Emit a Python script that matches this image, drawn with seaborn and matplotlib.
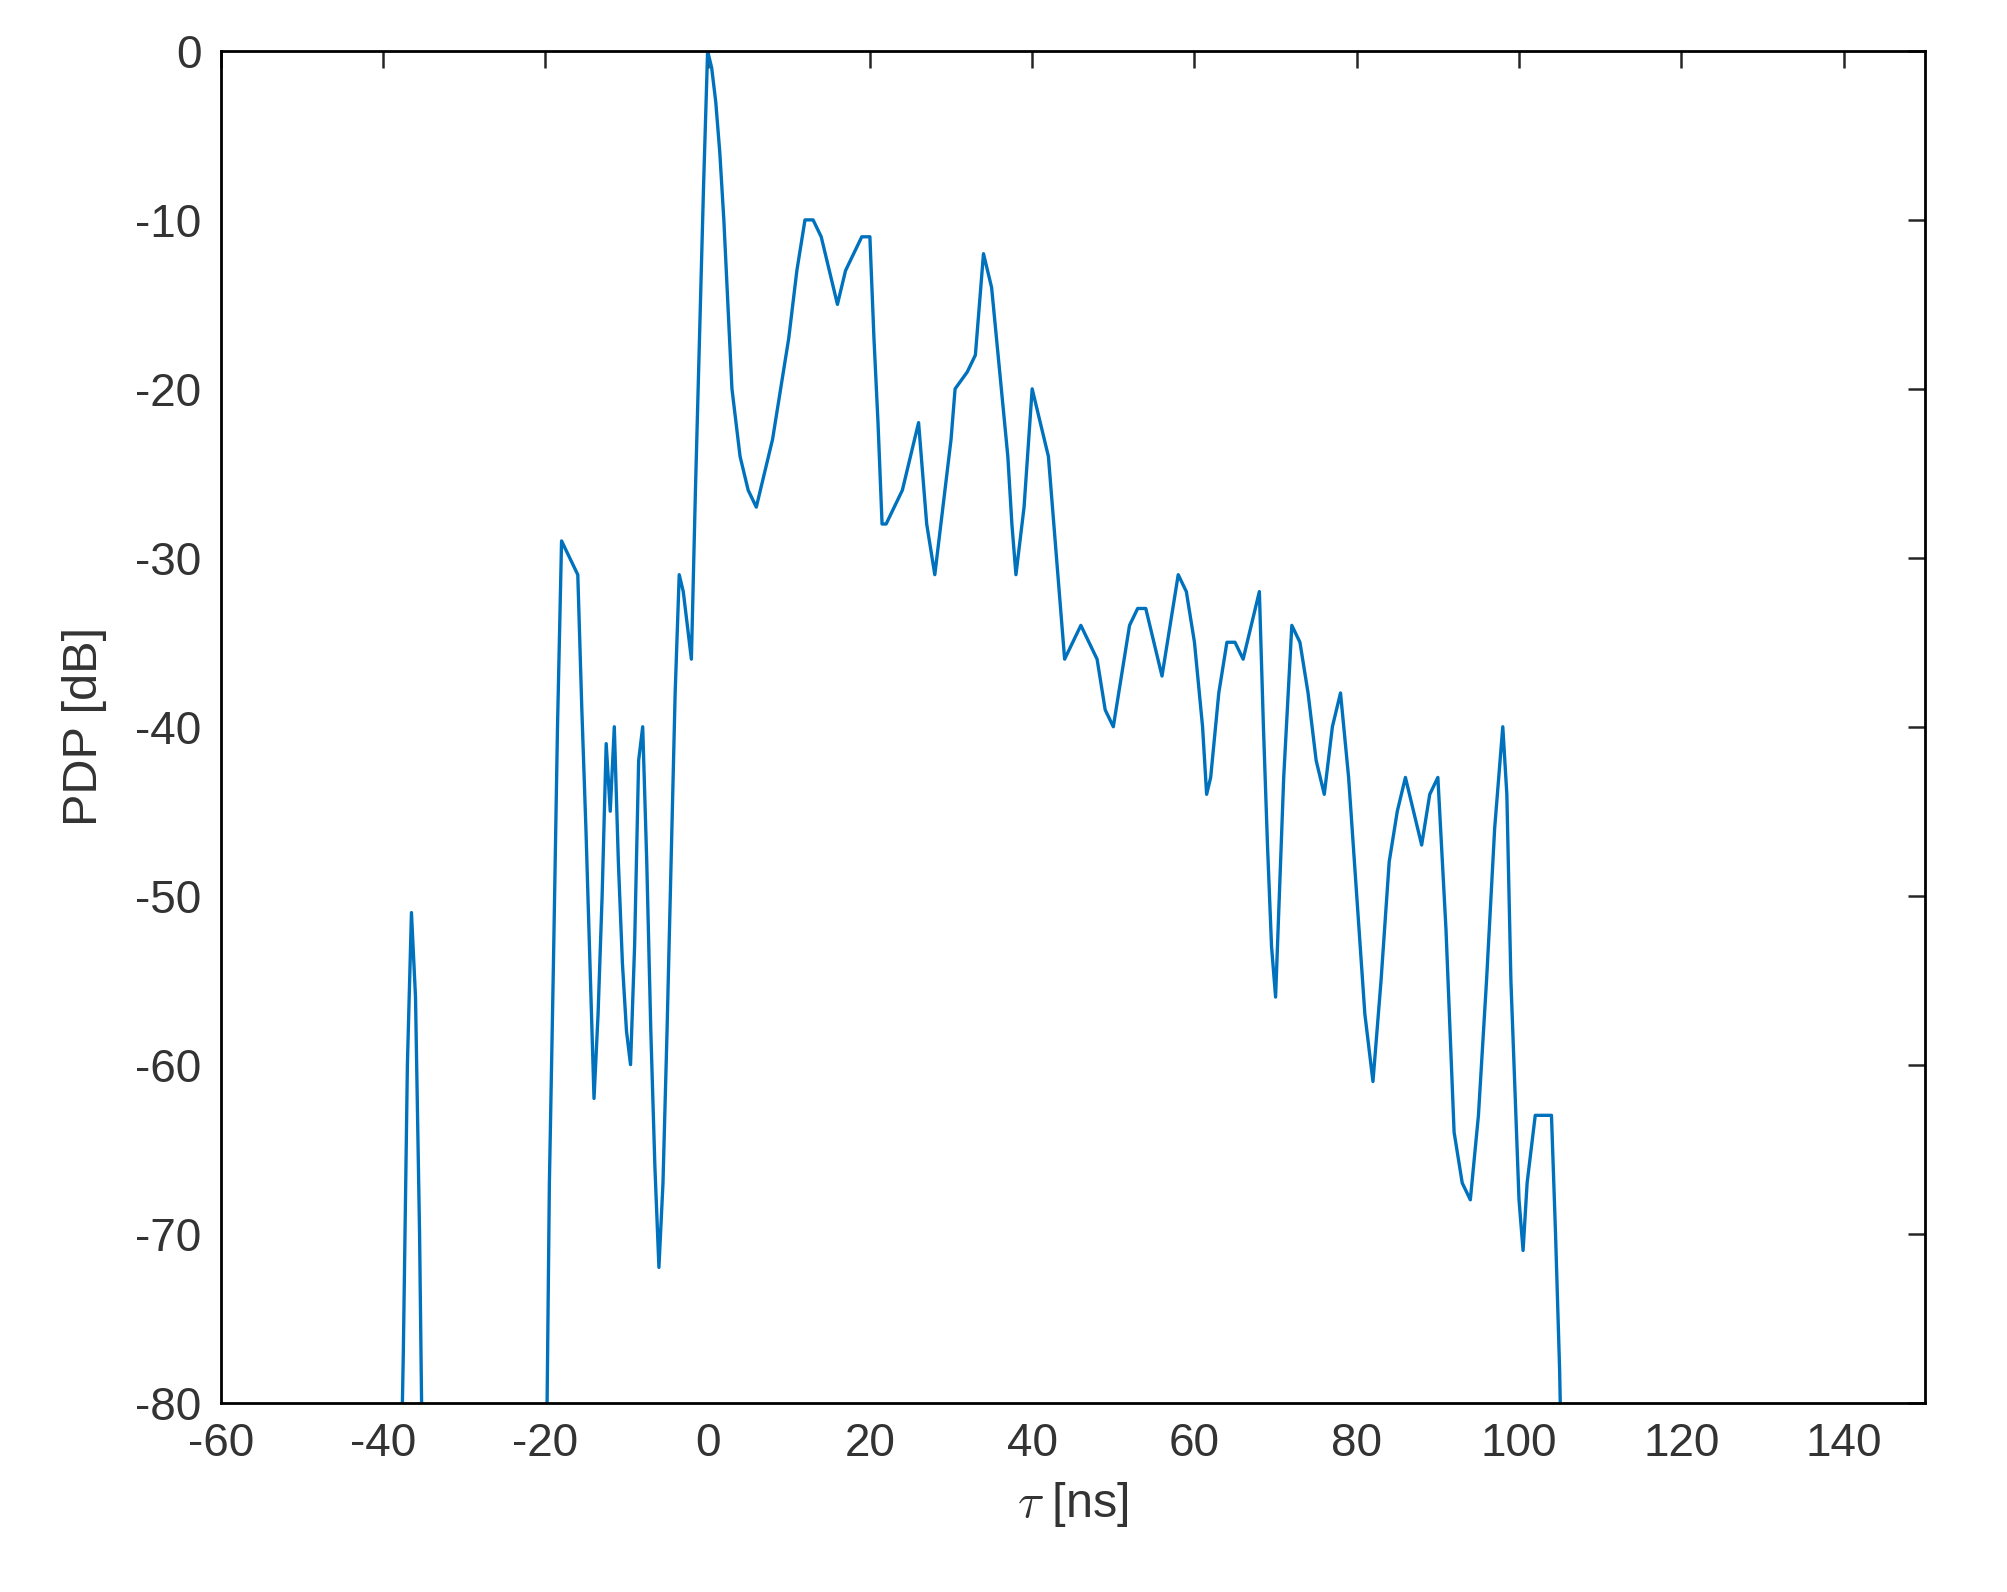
import numpy as np
import pandas as pd
import matplotlib
matplotlib.use('Agg')
import matplotlib.pyplot as plt
import seaborn as sns

# segment 1: early isolated spike
tau_a = [-38, -37.5, -37, -36.5, -36, -35.5, -35]
pdp_a = [-90, -77, -60, -51, -56, -70, -90]

# segment 2: main response
tau_b = [-20, -19.5, -19, -18.5, -18, -17, -16, -15.5, -15, -14.5, -14, -13.5, -13, -12.5, -12,
         -11.5, -11, -10.5, -10, -9.5, -9, -8.5, -8, -7.5, -7, -6.5, -6, -5.5, -5, -4.5, -4,
         -3.5, -3, -2.5, -2, -1.5, -1, -0.5, 0, 0.5, 1, 1.5, 2, 2.5, 3, 3.5, 4, 5, 6, 7, 8, 9,
         10, 11, 12, 13, 14, 15, 16, 17, 18, 19, 20, 20.5, 21, 21.5, 22, 23, 24, 25, 26, 26.5,
         27, 28, 29, 30, 30.5, 32, 33, 33.5, 34, 35, 36, 37, 37.5, 38, 39, 40, 41, 42, 43, 44,
         45, 46, 47, 48, 49, 50, 51, 52, 53, 54, 55, 56, 57, 58, 59, 60, 61, 61.5, 62, 63, 64,
         65, 66, 67, 68, 68.5, 69, 69.5, 70, 71, 72, 73, 74, 75, 76, 77, 78, 79, 80, 81, 82,
         83, 84, 85, 86, 87, 88, 89, 90, 91, 92, 93, 94, 95, 96, 97, 98, 98.5, 99, 100, 100.5,
         101, 102, 103, 104, 104.5, 105, 105.5]
pdp_b = [-90, -67, -54, -40, -29, -30, -31, -39, -46, -54, -62, -57, -50, -41, -45,
         -40, -48, -54, -58, -60, -53, -42, -40, -48, -58, -66, -72, -67, -58, -48, -38,
         -31, -32, -34, -36, -26, -17, -8, 0, -1, -3, -6, -10, -15, -20, -22, -24, -26, -27, -25, -23, -20,
         -17, -13, -10, -10, -11, -13, -15, -13, -12, -11, -11, -17, -22, -28, -28, -27, -26, -24, -22, -25,
         -28, -31, -27, -23, -20, -19, -18, -15, -12, -14, -19, -24, -28, -31, -27, -20, -22, -24, -30, -36,
         -35, -34, -35, -36, -39, -40, -37, -34, -33, -33, -35, -37, -34, -31, -32, -35, -40, -44, -43, -38, -35,
         -35, -36, -34, -32, -40, -47, -53, -56, -43, -34, -35, -38, -42, -44, -40, -38, -43, -50, -57, -61,
         -55, -48, -45, -43, -45, -47, -44, -43, -52, -64, -67, -68, -63, -55, -46, -40, -44, -55, -68, -71,
         -67, -63, -63, -63, -70, -78, -90]

sns.set_style('white')
plt.rcParams['font.family'] = ['Liberation Sans', 'DejaVu Sans']
plt.rcParams['mathtext.fontset'] = 'cm'
plt.rcParams['axes.unicode_minus'] = False

fig = plt.figure(figsize=(20.07, 15.92), dpi=100)
ax = fig.add_axes([0.110, 0.119, 0.849, 0.849])
col = '#0072BD'
sns.lineplot(x=tau_a, y=pdp_a, sort=False, color=col, lw=2.4, ax=ax)
sns.lineplot(x=tau_b, y=pdp_b, sort=False, color=col, lw=2.4, ax=ax)

ax.set_xlim(-60, 150)
ax.set_ylim(-80, 0)
ax.set_xticks(np.arange(-60, 141, 20))
ax.set_yticks(np.arange(-80, 1, 10))
ax.tick_params(direction='in', length=12, width=1.8, top=True, right=True,
               labelsize=33, labelcolor='#333333', pad=14)
for s in ax.spines.values():
    s.set_linewidth(2)
    s.set_color('black')
ax.set_xlabel(r'$\tau$ [ns]', fontsize=35, color='#333333', labelpad=10)
ax.set_ylabel('PDP [dB]', fontsize=35, color='#333333', labelpad=20)
fig.savefig('out.png', dpi=100)
